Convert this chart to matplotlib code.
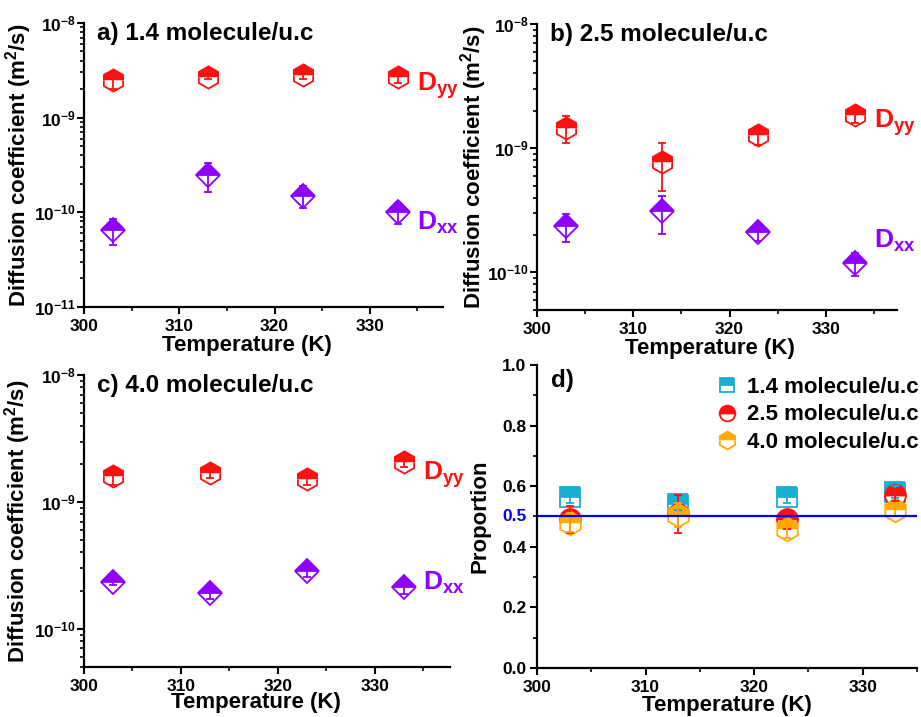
"""Diffusion coefficients Dxx / Dyy vs temperature at three loadings + Dyy proportion (2x2 panels)."""
import numpy as np
import matplotlib; matplotlib.use("Agg")
import matplotlib.pyplot as plt
import matplotlib.transforms as mtrans
from matplotlib.ticker import LogLocator, MultipleLocator, NullFormatter, FixedLocator

plt.rcParams['font.family'] = ['Liberation Sans', 'DejaVu Sans']
plt.rcParams['font.weight'] = 'bold'
plt.rcParams['axes.labelweight'] = 'bold'
plt.rcParams['mathtext.fontset'] = 'custom'
plt.rcParams['mathtext.rm'] = 'Liberation Sans:bold'
plt.rcParams['mathtext.bf'] = 'Liberation Sans:bold'
plt.rcParams['mathtext.it'] = 'Liberation Sans:bold:italic'
plt.rcParams['mathtext.default'] = 'bf'

RED = "#ff1010"; PURPLE = "#8e00ff"; CYAN = "#19aed2"; ORANGE = "#ffaa00"; BLUE = "#0000ff"

T = [303, 313, 323, 333]
# (a) 1.4 molecule/u.c
a_dyy = [2.5e-9, 2.7e-9, 2.85e-9, 2.7e-9]
a_dyy_err = [0.5e-9, 0.15e-9, 0.3e-9, 0.4e-9]
a_dxx = [6.5e-11, 2.5e-10, 1.5e-10, 1.0e-10]
a_dxx_err = [2.0e-11, 0.85e-10, 0.4e-10, 0.25e-10]
# (b) 2.5 molecule/u.c
b_dyy = [1.45e-9, 7.8e-10, 1.27e-9, 1.85e-9]
b_dyy_err = [0.35e-9, 0.33e-9, 0.2e-9, 0.25e-9]
b_dxx = [2.35e-10, 3.1e-10, 2.1e-10, 1.18e-10]
b_dxx_err = [0.6e-10, 1.05e-10, 0.3e-10, 0.25e-10]
# (c) 4.0 molecule/u.c
c_dyy = [1.6e-9, 1.7e-9, 1.52e-9, 2.08e-9]
c_dyy_err = [0.25e-9, 0.15e-9, 0.15e-9, 0.2e-9]
c_dxx = [2.34e-10, 1.91e-10, 2.87e-10, 2.14e-10]
c_dxx_err = [0.12e-10, 0.2e-10, 0.3e-10, 0.25e-10]
# (d) proportion
loadings = ["1.4 molecule/u.c", "2.5 molecule/u.c", "4.0 molecule/u.c"]
prop = [[0.565, 0.54, 0.565, 0.58],
        [0.49, 0.508, 0.49, 0.57],
        [0.48, 0.505, 0.46, 0.52]]
prop_err = [[0.02, 0.02, 0.02, 0.02],
            [0.045, 0.063, 0.03, 0.02],
            [0.03, 0.04, 0.03, 0.02]]

fig = plt.figure(figsize=(9.21, 7.17), dpi=100)

def style(ax, xmax, ypad):
    for s in ("top", "right"): ax.spines[s].set_visible(False)
    for s in ("left", "bottom"): ax.spines[s].set_linewidth(1.6)
    ax.tick_params(which="major", direction="out", length=5, width=1.5, labelsize=12.5)
    ax.tick_params(which="minor", direction="out", length=3, width=1.2)
    ax.tick_params(axis="y", which="major", pad=ypad)
    ax.set_xlim(300, xmax)
    ax.xaxis.set_major_locator(FixedLocator([300, 310, 320, 330]))
    ax.xaxis.set_minor_locator(MultipleLocator(5))

def half(ax, x, y, err, marker, ms, color):
    ax.plot(x, y, ls="none", marker=marker, ms=ms, mfc=color, mfcalt="white", fillstyle="top",
            mec=color, mew=1.3, zorder=2)
    ax.errorbar(x, y, yerr=err, fmt="none", ecolor=color, elinewidth=1.3, capsize=3, capthick=1.3, zorder=3)

def diff_panel(rect, xmax, ylo, title, dyy, dyy_e, dxx, dxx_e, lab_yy, lab_xx, xl, yl):
    ax = fig.add_axes(rect)
    half(ax, T, dyy, dyy_e, "h", 16, RED)
    half(ax, T, dxx, dxx_e, "D", 12, PURPLE)
    ax.set_yscale("log")
    ax.set_ylim(ylo, 1e-8)
    style(ax, xmax, 1)
    ax.yaxis.set_major_locator(LogLocator(base=10))
    ax.yaxis.set_minor_locator(LogLocator(base=10, subs=np.arange(2, 10)))
    ax.yaxis.set_minor_formatter(NullFormatter())
    ax.text(0.036, 1.005, title, transform=ax.transAxes, fontsize=17.5, va="top", ha="left")
    ax.text(335, lab_yy, r"$D_{yy}$", color=RED, fontsize=19, va="baseline")
    ax.text(335, lab_xx, r"$D_{xx}$", color=PURPLE, fontsize=19, va="baseline")
    ax.set_xlabel("Temperature (K)", fontsize=16)
    ax.set_ylabel(r"Diffusion coefficient (m$^2$/s)", fontsize=16)
    ax.xaxis.set_label_coords(xl, yl)
    return ax

axa = diff_panel([0.0912, 0.572, 0.390, 0.396], 337.7, 1e-11, "a) 1.4 molecule/u.c",
                 a_dyy, a_dyy_err, a_dxx, a_dxx_err, 1.9e-9, 6.5e-11, 0.454, -0.10)
axa.yaxis.set_label_coords(-0.14, 0.5)
axb = diff_panel([0.583, 0.568, 0.391, 0.3985], 337.4, 5e-11, "b) 2.5 molecule/u.c",
                 b_dyy, b_dyy_err, b_dxx, b_dxx_err, 1.47e-9, 1.58e-10, 0.48, -0.10)
axb.yaxis.set_label_coords(-0.132, 0.5)
axc = diff_panel([0.0912, 0.0697, 0.397, 0.407], 337.7, 5e-11, "c) 4.0 molecule/u.c",
                 c_dyy, c_dyy_err, c_dxx, c_dxx_err, 1.5e-9, 2.05e-10, 0.47, -0.086)
axc.yaxis.set_label_coords(-0.14, 0.5)

# (d) proportion of Dyy
axd = fig.add_axes([0.583, 0.0684, 0.4127, 0.4226])
markers = [("s", 14, CYAN), ("o", 15, RED), ("h", 17, ORANGE)]
handles = []
for (m, ms, c), lab, vals in zip(markers, loadings, prop):
    h, = axd.plot(T, vals, ls="none", marker=m, ms=ms, mfc=c, mfcalt="white", fillstyle="top",
                  mec=c, mew=1.3, zorder=2, label=lab)
    handles.append(h)
for (m, ms, c), vals, err in zip(markers, prop, prop_err):
    axd.errorbar(T, vals, yerr=err, fmt="none", ecolor=c, elinewidth=1.3, capsize=3, capthick=1.3, zorder=3)
axd.axhline(0.5, color=BLUE, lw=1.6, zorder=4)
style(axd, 335, 2.5)
axd.set_ylim(0, 1.0)
axd.yaxis.set_major_locator(MultipleLocator(0.2))
axd.yaxis.set_minor_locator(MultipleLocator(0.1))
axd.yaxis.set_major_formatter(plt.FuncFormatter(lambda v, p: f"{v:.1f}"))
tr = mtrans.offset_copy(axd.get_yaxis_transform(), fig=fig, x=-7.5, y=0, units="points")
axd.text(0, 0.5, "0.5", transform=tr, color=BLUE, fontsize=12.5, ha="right", va="center")
axd.text(0.036, 0.985, "d)", transform=axd.transAxes, fontsize=17.5, va="top", ha="left")
axd.set_xlabel("Temperature (K)", fontsize=16)
axd.set_ylabel("Proportion", fontsize=16)
axd.xaxis.set_label_coords(0.5, -0.088)
axd.yaxis.set_label_coords(-0.123, 0.5)
axd.legend(handles=handles, loc="upper right", bbox_to_anchor=(0.997, 0.474), bbox_transform=fig.transFigure,
           frameon=False, fontsize=16, markerscale=0.75, handlelength=1.0, handletextpad=0.4,
           labelspacing=0.28, borderpad=0, borderaxespad=0)

fig.savefig("out.png", dpi=100)
